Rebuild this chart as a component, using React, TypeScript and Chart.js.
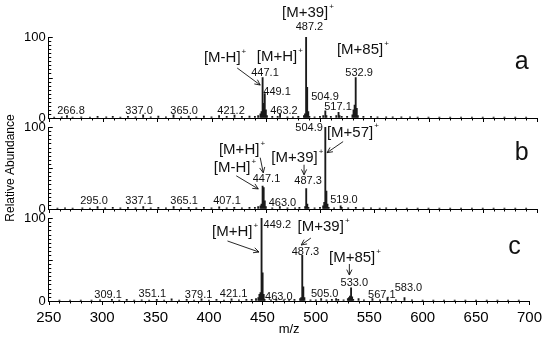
import React, { useEffect, useRef } from 'react';
import { Chart, registerables } from 'chart.js';

Chart.register(...registerables);

const FONT = "'Liberation Sans', Arial, Helvetica, sans-serif";

// axis ranges and ticks
const MZ_MIN = 250;
const MZ_MAX = 700;
const MZ_STEP = 50;
const Y_TICKS = [0, 100];
const X_TITLE = 'm/z';
const Y_TITLE = 'Relative Abundance';

// spectra: [m/z, relative abundance]
const specA: [number, number][] = [
  [255, 1], [262, 1.5], [266.8, 3], [272, 1], [280, 1.5], [288, 1], [295, 2], [303, 1.5], [309, 2], [316, 1],
  [323, 2], [330, 1.5], [337, 4], [344, 1.5], [351, 2.5], [358, 1.5], [365, 4], [372, 1.5], [379, 2.5], [386, 1.5],
  [393, 2.5], [400, 1.5], [407, 3], [414, 2], [421.2, 3.5], [428, 2], [435, 2.5], [440, 2], [443, 3], [445.1, 5],
  [446.1, 8], [447.1, 50], [448.1, 18], [449.1, 30], [450.1, 10], [451.1, 3], [456, 2], [461, 2], [463.2, 5], [470, 1.5],
  [475, 1.5], [480, 2], [485.2, 3], [486.2, 5], [487.2, 100], [488.2, 38], [489.2, 8], [490.2, 2], [495, 1.5], [500, 2],
  [503, 3], [504.9, 9], [505.9, 3], [510, 2], [515, 3], [517.1, 7], [518, 3], [520, 2], [525, 2], [529.9, 4],
  [530.9, 10], [531.9, 16], [532.9, 50], [533.9, 12], [534.9, 3], [540, 2], [547, 2], [553, 1.5], [561, 1.5], [567, 1.5],
  [575, 1.5], [583, 1.5], [590, 1], [600, 1], [610, 1], [620, 1], [630, 1], [640, 1], [650, 1], [660, 1],
  [670, 1], [680, 1], [690, 1],
];

const specB: [number, number][] = [
  [258, 1], [265, 1.5], [272, 1], [281, 1.5], [288, 1], [295, 3], [302, 1.5], [309, 2], [316, 1.5], [323, 2],
  [330, 1.5], [337.1, 3], [344, 1.5], [351, 2], [358, 1.5], [365.1, 3], [372, 1.5], [379, 2], [386, 1.5], [393, 2],
  [400, 1.5], [407.1, 2.5], [414, 1.5], [421, 2], [428, 1.5], [435, 2], [440, 2], [443, 3], [445.1, 4], [446.1, 6],
  [447.1, 28], [448.1, 26], [449.1, 10], [450.1, 3], [456, 1.5], [463, 3], [470, 1.5], [477, 1.5], [481, 2], [486.3, 3],
  [487.3, 25], [488.3, 6], [489.3, 2], [495, 1.5], [500, 2], [502.9, 4], [503.9, 8], [504.9, 100], [505.9, 22], [506.9, 6],
  [508, 2], [513, 1.5], [519, 4], [520, 2], [526, 1.5], [533, 2], [540, 1.5], [547, 1.5], [555, 1], [561, 1.5],
  [570, 1], [580, 1], [590, 1], [600, 1], [610, 1], [620, 1], [630, 1], [640, 1], [650, 1], [660, 1],
  [670, 1], [680, 1], [690, 1],
];

const specC: [number, number][] = [
  [260, 1], [270, 1], [280, 1], [290, 1], [298, 1.5], [309.1, 2], [316, 1], [323, 2], [330, 1], [337, 1.5],
  [344, 1], [351.1, 2], [358, 1], [365, 2.5], [372, 1], [379.1, 2], [386, 1], [393, 2.5], [400, 1], [407, 2],
  [414, 1], [421.1, 2.5], [428, 1.5], [435, 2], [440, 2], [444, 3], [446.2, 4], [447.2, 8], [448.2, 10], [449.2, 100],
  [450.2, 34], [451.2, 8], [452, 2], [458, 1.5], [463, 2], [470, 1.5], [475, 1.5], [480, 2], [485.3, 3], [486.3, 4],
  [487.3, 55], [488.3, 17], [489.3, 4], [495, 1.5], [500, 1.5], [505, 3], [510, 1.5], [515, 2], [519, 3], [521, 2],
  [526, 1.5], [530, 3], [531, 4], [532, 6], [533, 16], [534, 5], [535, 2], [540, 3], [545, 1.5], [553, 3],
  [560, 1.5], [567.1, 4], [575, 1.5], [583, 4], [590, 1.5], [600, 1], [610, 1], [620, 1], [630, 1], [640, 1],
  [650, 1], [660, 1], [670, 1], [680, 1], [690, 1],
];

type Ann = { t: string; sup?: string; x: number; y: number; k: 'peak' | 'ion' | 'panel' };
type Arrow = [number, number, number, number];

const labelsA: Ann[] = [
  { t: '266.8', x: 270.5, y: 8.6, k: 'peak' },
  { t: '337.0', x: 333.2, y: 8.6, k: 'peak' },
  { t: '365.0', x: 374.7, y: 8.6, k: 'peak' },
  { t: '421.2', x: 418, y: 8.6, k: 'peak' },
  { t: '463.2', x: 466.8, y: 8.6, k: 'peak' },
  { t: '449.1', x: 460.4, y: 32, k: 'peak' },
  { t: '447.1', x: 449.3, y: 55.6, k: 'peak' },
  { t: '[M+H]', sup: '+', x: 460.4, y: 75, k: 'ion' },
  { t: '[M-H]', sup: '+', x: 409.9, y: 74, k: 'ion' },
  { t: '[M+39]', sup: '+', x: 486.3, y: 129.6, k: 'ion' },
  { t: '487.2', x: 490.3, y: 112, k: 'peak' },
  { t: '[M+85]', sup: '+', x: 536.9, y: 84, k: 'ion' },
  { t: '532.9', x: 536, y: 55.6, k: 'peak' },
  { t: '504.9', x: 504.6, y: 26, k: 'peak' },
  { t: '517.1', x: 516.6, y: 13.6, k: 'peak' },
  { t: 'a', x: 686, y: 69, k: 'panel' },
];
const arrowsA: Arrow[] = [[423.7, 61.7, 444.9, 40.7]];

const labelsB: Ann[] = [
  { t: '295.0', x: 291.7, y: 9.8, k: 'peak' },
  { t: '337.1', x: 333.2, y: 9.8, k: 'peak' },
  { t: '365.1', x: 374.7, y: 9.8, k: 'peak' },
  { t: '407.1', x: 414.3, y: 9.8, k: 'peak' },
  { t: '[M+H]', sup: '+', x: 425.5, y: 72.4, k: 'ion' },
  { t: '[M-H]', sup: '+', x: 419, y: 50.3, k: 'ion' },
  { t: '447.1', x: 450.7, y: 36.8, k: 'peak' },
  { t: '463.0', x: 465.4, y: 7.4, k: 'peak' },
  { t: '[M+39]', sup: '+', x: 476.5, y: 62.6, k: 'ion' },
  { t: '487.3', x: 489, y: 34.4, k: 'peak' },
  { t: '504.9', x: 489.9, y: 99.4, k: 'peak' },
  { t: '[M+57]', sup: '+', x: 527.7, y: 93.3, k: 'ion' },
  { t: '519.0', x: 522.1, y: 11, k: 'peak' },
  { t: 'b', x: 686, y: 68.7, k: 'panel' },
];
const arrowsB: Arrow[] = [
  [444.9, 62.6, 447.7, 44.2],
  [422.8, 40.5, 443.1, 24.5],
  [485.3, 54, 485.3, 41.7],
  [521.3, 82.2, 506.5, 68.7],
];

const labelsC: Ann[] = [
  { t: '309.1', x: 305.5, y: 7.2, k: 'peak' },
  { t: '351.1', x: 347, y: 8.4, k: 'peak' },
  { t: '379.1', x: 390.3, y: 7.2, k: 'peak' },
  { t: '421.1', x: 423, y: 8.4, k: 'peak' },
  { t: '463.0', x: 465.4, y: 4.8, k: 'peak' },
  { t: '505.0', x: 508.3, y: 8.4, k: 'peak' },
  { t: '533.0', x: 536, y: 21.7, k: 'peak' },
  { t: '567.1', x: 561.8, y: 7.2, k: 'peak' },
  { t: '583.0', x: 586.7, y: 15.7, k: 'peak' },
  { t: '449.2', x: 464, y: 91.6, k: 'peak' },
  { t: '[M+H]', sup: '+', x: 421.7, y: 83, k: 'ion' },
  { t: '[M+39]', sup: '+', x: 504.6, y: 89, k: 'ion' },
  { t: '487.3', x: 490.3, y: 59, k: 'peak' },
  { t: '[M+85]', sup: '+', x: 534, y: 51.8, k: 'ion' },
  { t: 'c', x: 686, y: 65, k: 'panel' },
];
const arrowsC: Arrow[] = [
  [417.3, 72.3, 446.8, 59],
  [495.4, 75.9, 486.3, 67.5],
  [531.4, 44.6, 531.4, 31.3],
];

type PanelDef = {
  spec: [number, number][];
  labels: Ann[];
  arrows: Arrow[];
  top: number;
  bottom: number;
  xLabels: boolean;
  yTitle: boolean;
};

const W = 550;
const H = 338;
const LEFT = 48.75;
const RIGHT = 537;

const panels: PanelDef[] = [
  { spec: specA, labels: labelsA, arrows: arrowsA, top: 37, bottom: 118, xLabels: false, yTitle: false },
  { spec: specB, labels: labelsB, arrows: arrowsB, top: 127, bottom: 209, xLabels: false, yTitle: true },
  { spec: specC, labels: labelsC, arrows: arrowsC, top: 218, bottom: 301, xLabels: true, yTitle: false },
];

const INK = '#111';

function buildChart(canvas: HTMLCanvasElement, p: PanelDef) {
  const X_AXIS_H = p.xLabels ? H - p.bottom : 0;
  const annot = {
    id: 'annot',
    afterDraw(chart: any) {
      const ctx = chart.ctx as CanvasRenderingContext2D;
      const xs = chart.scales.x;
      const ys = chart.scales.y;
      ctx.save();
      ctx.strokeStyle = '#000';
      ctx.lineWidth = 1;
      // minor ticks along the baseline and the y axis
      ctx.beginPath();
      const y0 = ys.getPixelForValue(0);
      for (let v = MZ_MIN; v <= MZ_MAX; v += 10) {
        const px = Math.round(xs.getPixelForValue(v)) + 0.5;
        const len = v % MZ_STEP === 0 ? 4 : 2.5;
        ctx.moveTo(px, y0);
        ctx.lineTo(px, y0 + len);
      }
      const x0 = xs.getPixelForValue(MZ_MIN);
      for (let v = 0; v <= 100; v += 5) {
        const py = Math.round(ys.getPixelForValue(v)) + 0.5;
        const len = v % 50 === 0 ? 4 : 2.5;
        ctx.moveTo(x0, py);
        ctx.lineTo(x0 + len, py);
      }
      ctx.stroke();

      // arrows
      ctx.strokeStyle = INK;
      ctx.lineWidth = 0.9;
      for (const [x1, y1, x2, y2] of p.arrows) {
        const ax = xs.getPixelForValue(x1);
        const ay = ys.getPixelForValue(y1);
        const bx = xs.getPixelForValue(x2);
        const by = ys.getPixelForValue(y2);
        const ang = Math.atan2(by - ay, bx - ax);
        const h = 6;
        const w = 0.45;
        ctx.beginPath();
        ctx.moveTo(ax, ay);
        ctx.lineTo(bx, by);
        ctx.moveTo(bx - h * Math.cos(ang - w), by - h * Math.sin(ang - w));
        ctx.lineTo(bx, by);
        ctx.lineTo(bx - h * Math.cos(ang + w), by - h * Math.sin(ang + w));
        ctx.stroke();
      }

      // labels
      ctx.fillStyle = INK;
      for (const a of p.labels) {
        const size = a.k === 'panel' ? 25 : a.k === 'ion' ? 15 : 11;
        ctx.font = `${size}px ${FONT}`;
        ctx.textAlign = 'center';
        ctx.textBaseline = 'middle';
        const px = xs.getPixelForValue(a.x);
        const py = ys.getPixelForValue(a.y);
        ctx.fillText(a.t, px, py);
        if (a.sup) {
          const w = ctx.measureText(a.t).width;
          ctx.font = `8px ${FONT}`;
          ctx.textAlign = 'left';
          ctx.fillText(a.sup, px + w / 2 + 1, py - size * 0.42);
        }
      }
      ctx.restore();
    },
  };

  return new Chart(canvas, {
    type: 'bar',
    data: {
      datasets: [
        {
          data: p.spec.map(([x, y]) => ({ x, y })),
          backgroundColor: '#1a1a1a',
          borderWidth: 0,
          barThickness: 1.2,
        },
      ],
    },
    options: {
      responsive: false,
      animation: false,
      devicePixelRatio: 1,
      events: [],
      layout: {
        padding: { left: 0, right: W - RIGHT, top: p.top, bottom: H - p.bottom - X_AXIS_H },
      },
      plugins: { legend: { display: false }, tooltip: { enabled: false } },
      scales: {
        x: {
          type: 'linear',
          min: MZ_MIN,
          max: MZ_MAX,
          offset: false,
          grid: { display: true, drawOnChartArea: false, drawTicks: false },
          border: { display: true, color: '#000', width: 1 },
          ticks: {
            display: p.xLabels,
            stepSize: MZ_STEP,
            autoSkip: false,
            maxRotation: 0,
            padding: 8,
            color: '#000',
            font: { size: 15, family: FONT },
          },
          title: {
            display: p.xLabels,
            text: X_TITLE,
            color: '#000',
            font: { size: 13, family: FONT },
            padding: { top: 0, bottom: 1 },
          },
          afterFit: (s: any) => {
            s.height = X_AXIS_H;
          },
        },
        y: {
          min: 0,
          max: 100,
          grid: { display: true, drawOnChartArea: false, drawTicks: false },
          border: { display: true, color: '#000', width: 1 },
          ticks: { color: '#000', padding: 3, font: { size: 13, family: FONT } },
          afterBuildTicks: (s: any) => {
            s.ticks = Y_TICKS.map((v) => ({ value: v }));
          },
          title: {
            display: p.yTitle,
            text: Y_TITLE,
            color: '#000',
            font: { size: 12, family: FONT },
            padding: { top: 3, bottom: 0 },
          },
          afterFit: (s: any) => {
            s.width = LEFT;
          },
        },
      },
    } as any,
    plugins: [annot],
  });
}

export default function App() {
  const r0 = useRef<HTMLCanvasElement>(null);
  const r1 = useRef<HTMLCanvasElement>(null);
  const r2 = useRef<HTMLCanvasElement>(null);

  useEffect(() => {
    const refs = [r0, r1, r2];
    const charts = panels.map((p, i) => buildChart(refs[i].current as HTMLCanvasElement, p));
    return () => charts.forEach((c) => c.destroy());
  }, []);

  const cs: React.CSSProperties = { position: 'absolute', left: 0, top: 0, width: W, height: H };
  return (
    <div style={{ position: 'absolute', left: 0, top: 0, width: W, height: H, background: '#fff' }}>
      <canvas ref={r0} width={W} height={H} style={cs} />
      <canvas ref={r1} width={W} height={H} style={cs} />
      <canvas ref={r2} width={W} height={H} style={cs} />
    </div>
  );
}
